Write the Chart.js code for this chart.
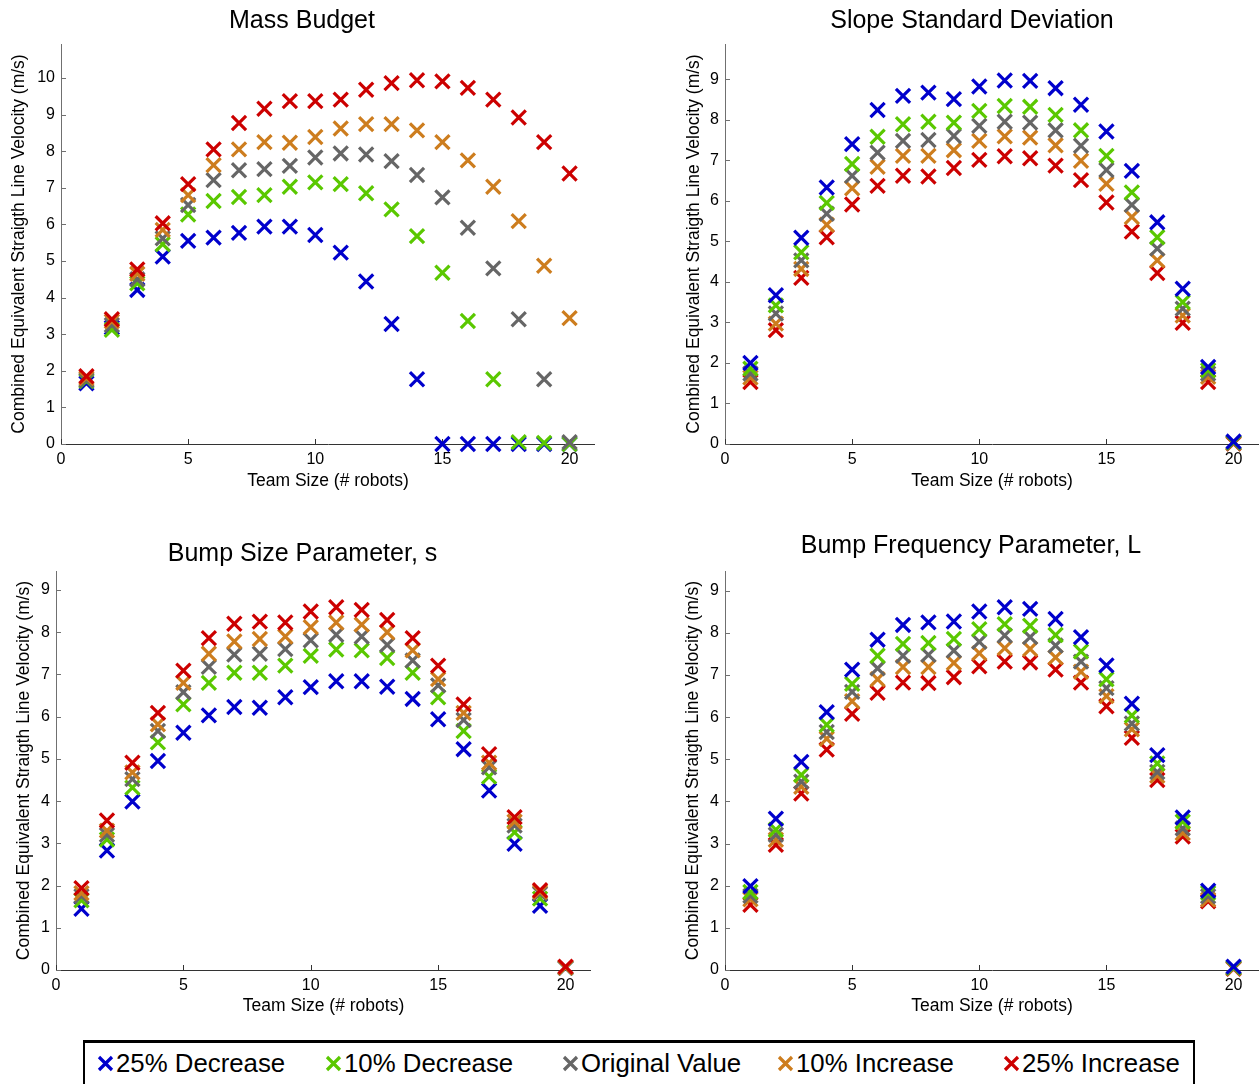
<!DOCTYPE html>
<html lang="en">
<head>
<meta charset="UTF-8">
<title>Team size sensitivity</title>
<script src="https://cdn.jsdelivr.net/npm/chart.js@4.4.0/dist/chart.umd.min.js"></script>
<style>
    body {
        margin: 0;
        width: 1259px;
        height: 1084px;
        position: relative;
        overflow: hidden;
        background: #fff;
        font-family: "Liberation Sans", Arial, sans-serif;
    }
    canvas { position: absolute; }
    #legend {
        position: absolute;
        left: 83px;
        top: 1040px;
        width: 1112px;
        height: 54px;
        box-sizing: border-box;
        border: 2px solid #000;
        border-top-width: 3px;
        background: #fff;
    }
    .item {
        position: absolute;
        top: 0;
        height: 40px;
        display: flex;
        align-items: center;
        font-size: 25.8px;
        color: #000;
        white-space: nowrap;
    }
    .item svg { margin-right: 2px; }
</style>
</head>
<body>
<canvas id="c1" width="586" height="500" style="left:9px;top:0px"></canvas>
<canvas id="c2" width="574" height="500" style="left:685px;top:0px"></canvas>
<canvas id="c3" width="577" height="505" style="left:14px;top:520px"></canvas>
<canvas id="c4" width="576" height="505" style="left:683px;top:520px"></canvas>
<div id="legend"></div>

<script>
    // data
    const teamSize = [1, 2, 3, 4, 5, 6, 7, 8, 9, 10, 11, 12, 13, 14, 15, 16, 17, 18, 19, 20];
    const seriesNames = ['25% Decrease', '10% Decrease', 'Original Value', '10% Increase', '25% Increase'];
    const seriesColors = ['#0000cc', '#5ac800', '#666666', '#cd7d1e', '#cc0000'];

    // Mass Budget
    const massDec25 = [1.66, 3.18, 4.21, 5.12, 5.55, 5.64, 5.77, 5.94, 5.94, 5.71, 5.23, 4.44, 3.28, 1.77, 0, 0, 0, 0, 0, 0];
    const massDec10 = [1.72, 3.12, 4.39, 5.46, 6.27, 6.64, 6.75, 6.80, 7.03, 7.15, 7.10, 6.85, 6.41, 5.68, 4.68, 3.36, 1.77, 0.05, 0.03, 0];
    const massOrig  = [1.75, 3.25, 4.50, 5.62, 6.53, 7.21, 7.48, 7.51, 7.60, 7.83, 7.94, 7.91, 7.73, 7.35, 6.74, 5.91, 4.80, 3.41, 1.77, 0.05];
    const massInc10 = [1.80, 3.35, 4.65, 5.85, 6.80, 7.62, 8.05, 8.25, 8.23, 8.39, 8.62, 8.74, 8.74, 8.57, 8.25, 7.75, 7.03, 6.09, 4.87, 3.44];
    const massInc25 = [1.85, 3.41, 4.77, 6.03, 7.10, 8.05, 8.77, 9.16, 9.37, 9.37, 9.41, 9.68, 9.86, 9.94, 9.91, 9.73, 9.41, 8.92, 8.25, 7.39];

    // Slope Standard Deviation
    const slopeDec25 = [2.00, 3.67, 5.09, 6.33, 7.40, 8.24, 8.59, 8.67, 8.51, 8.82, 8.97, 8.96, 8.78, 8.37, 7.71, 6.74, 5.47, 3.83, 1.90, 0.06];
    const slopeDec10 = [1.86, 3.42, 4.73, 5.95, 6.91, 7.58, 7.89, 7.95, 7.93, 8.22, 8.34, 8.32, 8.12, 7.74, 7.11, 6.21, 5.10, 3.50, 1.82, 0.04];
    const slopeOrig  = [1.74, 3.22, 4.53, 5.68, 6.62, 7.19, 7.48, 7.50, 7.60, 7.85, 7.95, 7.93, 7.74, 7.36, 6.76, 5.90, 4.82, 3.34, 1.74, 0.03];
    const slopeInc10 = [1.64, 2.97, 4.32, 5.41, 6.31, 6.84, 7.11, 7.11, 7.25, 7.48, 7.59, 7.56, 7.37, 6.99, 6.42, 5.60, 4.53, 3.17, 1.66, 0.02];
    const slopeInc25 = [1.53, 2.81, 4.10, 5.10, 5.91, 6.37, 6.62, 6.60, 6.81, 7.01, 7.10, 7.05, 6.87, 6.51, 5.96, 5.24, 4.22, 2.99, 1.53, 0.01];

    // Bump Size Parameter, s
    const sizeDec25 = [1.45, 2.83, 3.99, 4.95, 5.62, 6.03, 6.23, 6.21, 6.46, 6.70, 6.84, 6.84, 6.71, 6.42, 5.94, 5.23, 4.25, 2.99, 1.52, 0.05];
    const sizeDec10 = [1.65, 3.09, 4.32, 5.39, 6.29, 6.80, 7.04, 7.04, 7.21, 7.44, 7.59, 7.57, 7.39, 7.04, 6.46, 5.66, 4.58, 3.26, 1.69, 0.05];
    const sizeOrig  = [1.75, 3.20, 4.52, 5.66, 6.58, 7.18, 7.47, 7.49, 7.60, 7.81, 7.94, 7.90, 7.70, 7.33, 6.74, 5.92, 4.80, 3.42, 1.81, 0.05];
    const sizeInc10 = [1.82, 3.30, 4.68, 5.82, 6.80, 7.49, 7.78, 7.84, 7.90, 8.12, 8.23, 8.18, 8.00, 7.57, 6.89, 6.09, 4.91, 3.51, 1.85, 0.06];
    const sizeInc25 = [1.94, 3.54, 4.91, 6.09, 7.09, 7.86, 8.20, 8.25, 8.23, 8.49, 8.59, 8.53, 8.29, 7.86, 7.21, 6.29, 5.11, 3.62, 1.89, 0.08];

    // Bump Frequency Parameter, L
    const freqDec25 = [1.99, 3.59, 4.94, 6.12, 7.13, 7.84, 8.19, 8.25, 8.27, 8.51, 8.61, 8.57, 8.33, 7.90, 7.23, 6.32, 5.10, 3.62, 1.88, 0.08];
    const freqDec10 = [1.85, 3.33, 4.63, 5.82, 6.79, 7.46, 7.74, 7.76, 7.86, 8.09, 8.21, 8.17, 7.95, 7.56, 6.90, 6.04, 4.90, 3.52, 1.83, 0.06];
    const freqOrig  = [1.76, 3.21, 4.47, 5.65, 6.60, 7.16, 7.46, 7.48, 7.58, 7.79, 7.94, 7.90, 7.70, 7.32, 6.69, 5.85, 4.70, 3.36, 1.75, 0.05];
    const freqInc10 = [1.68, 3.09, 4.35, 5.49, 6.38, 6.90, 7.19, 7.19, 7.29, 7.52, 7.64, 7.62, 7.42, 7.08, 6.50, 5.71, 4.61, 3.25, 1.67, 0.04];
    const freqInc25 = [1.55, 2.97, 4.19, 5.23, 6.08, 6.58, 6.82, 6.81, 6.95, 7.21, 7.32, 7.30, 7.13, 6.82, 6.26, 5.51, 4.51, 3.17, 1.63, 0.03];

    const xTitle = 'Team Size (# robots)';
    const yTitle = 'Combined Equivalent Straigth Line Velocity (m/s)';

    Chart.defaults.font.family = '"Liberation Sans", Arial, sans-serif';
    Chart.defaults.color = '#000';

    // matlab style inward tick marks
    const innerTicks = {
        id: 'innerTicks',
        beforeDatasetsDraw(chart) {
            const {ctx, chartArea} = chart;
            const x = chart.scales.x, y = chart.scales.y;
            ctx.save();
            ctx.lineWidth = 1;
            ctx.strokeStyle = '#333';
            x.ticks.forEach((t, i) => {
                const px = Math.round(x.getPixelForTick(i)) + 0.5;
                ctx.beginPath();
                ctx.moveTo(px, chartArea.bottom);
                ctx.lineTo(px, chartArea.bottom - 5);
                ctx.stroke();
            });
            ctx.strokeStyle = '#707070';
            y.ticks.forEach((t, i) => {
                const py = Math.round(y.getPixelForTick(i)) + 0.5;
                ctx.beginPath();
                ctx.moveTo(chartArea.left, py);
                ctx.lineTo(chartArea.left + 5, py);
                ctx.stroke();
            });
            ctx.restore();
        }
    };

    const panels = [
        {id: 'c1', title: 'Mass Budget', series: [massDec25, massDec10, massOrig, massInc10, massInc25],
         yMax: 10.93, redOnTop: true, titlePad: [6, 8], yAxisW: 52, xAxisH: 56, yTitlePad: 1},
        {id: 'c2', title: 'Slope Standard Deviation', series: [slopeDec25, slopeDec10, slopeOrig, slopeInc10, slopeInc25],
         yMax: 9.87, redOnTop: false, titlePad: [6, 8], yAxisW: 40, xAxisH: 56, yTitlePad: 0},
        {id: 'c3', title: 'Bump Size Parameter, s', series: [sizeDec25, sizeDec10, sizeOrig, sizeInc10, sizeInc25],
         yMax: 9.45, redOnTop: true, titlePad: [19, 2], yAxisW: 42, xAxisH: 55, yTitlePad: 1},
        {id: 'c4', title: 'Bump Frequency Parameter, L', series: [freqDec25, freqDec10, freqOrig, freqInc10, freqInc25],
         yMax: 9.47, redOnTop: false, titlePad: [11.5, 9.5], yAxisW: 42, xAxisH: 55, yTitlePad: 1}
    ];

    panels.forEach(p => {
        const ctx = document.getElementById(p.id).getContext('2d');
        new Chart(ctx, {
            type: 'scatter',
            data: {
                datasets: p.series.map((vals, i) => ({
                    label: seriesNames[i],
                    data: teamSize.map((t, k) => ({x: t, y: vals[k]})),
                    pointStyle: 'crossRot',
                    pointRadius: 10,
                    pointHoverRadius: 10,
                    pointBorderWidth: 3.2,
                    borderColor: seriesColors[i],
                    backgroundColor: seriesColors[i],
                    order: p.redOnTop ? 4 - i : i,
                    clip: false
                }))
            },
            options: {
                responsive: false,
                animation: false,
                devicePixelRatio: 1,
                events: [],
                layout: {padding: 0, autoPadding: false},
                plugins: {
                    legend: {display: false},
                    tooltip: {enabled: false},
                    title: {
                        display: true,
                        text: p.title,
                        color: '#000',
                        font: {size: 25, weight: 'normal', lineHeight: 1.2},
                        padding: {top: p.titlePad[0], bottom: p.titlePad[1]}
                    }
                },
                scales: {
                    x: {
                        type: 'linear',
                        position: 'bottom',
                        min: 0,
                        max: 21,
                        grid: {display: false, drawTicks: false},
                        border: {display: true, color: '#333', width: 1},
                        ticks: {stepSize: 5, includeBounds: false, autoSkip: false, maxRotation: 0,
                                padding: 6, font: {size: 16}},
                        title: {display: true, text: xTitle, font: {size: 17.5, lineHeight: 1},
                                padding: {top: 0, bottom: 10}},
                        afterFit: s => { s.height = p.xAxisH; s.paddingLeft = 0; s.paddingRight = 0; }
                    },
                    y: {
                        type: 'linear',
                        min: 0,
                        max: p.yMax,
                        grid: {display: false, drawTicks: false},
                        border: {display: true, color: '#707070', width: 1},
                        ticks: {stepSize: 1, includeBounds: false, autoSkip: false, padding: 6, font: {size: 16}},
                        title: {display: true, text: yTitle, font: {size: 17.5, lineHeight: 1},
                                padding: {top: p.yTitlePad, bottom: 0}},
                        afterFit: s => { s.width = p.yAxisW; s.paddingTop = 0; s.paddingBottom = 0; }
                    }
                }
            },
            plugins: [innerTicks]
        });
    });

    // legend box at the bottom
    const legendLeft = [12, 240, 477, 692, 918];
    const legend = document.getElementById('legend');
    seriesNames.forEach((name, i) => {
        const item = document.createElement('div');
        item.className = 'item';
        item.style.left = legendLeft[i] + 'px';
        item.innerHTML =
            '<svg width="17" height="17" viewBox="0 0 17 17">' +
            '<path d="M2 2 L15 15 M15 2 L2 15" stroke="' + seriesColors[i] + '" stroke-width="3.2" fill="none"/></svg>' +
            '<span>' + name + '</span>';
        legend.appendChild(item);
    });
</script>
</body>
</html>
